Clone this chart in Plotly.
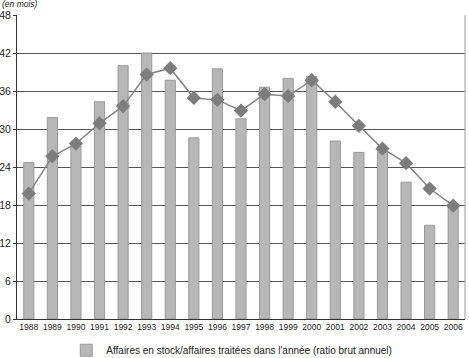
import plotly.graph_objects as go

years = [str(y) for y in range(1988, 2007)]
bar_values = [24.7, 31.8, 27.3, 34.3, 40.0, 42.0, 37.7, 28.6, 39.5, 31.6,
              36.6, 38.0, 38.3, 28.1, 26.3, 26.4, 21.6, 14.8, 17.9]
line_values = [19.8, 25.7, 27.7, 30.9, 33.6, 38.6, 39.6, 34.9, 34.6, 32.9,
               35.5, 35.2, 37.7, 34.3, 30.5, 26.9, 24.6, 20.6, 17.9]
y_ticks = [0, 6, 12, 18, 24, 30, 36, 42, 48]

FONT = "Liberation Sans, Arial, sans-serif"

fig = go.Figure()
fig.add_trace(go.Bar(
    x=years, y=bar_values,
    name="Affaires en stock/affaires traitées dans l'année (ratio brut annuel)",
    marker=dict(color="#b7b7b7", line=dict(color="#9a9a9a", width=1)),
    showlegend=True,
))
fig.add_trace(go.Scatter(
    x=years, y=line_values, mode="lines+markers",
    line=dict(color="#858585", width=1.5),
    marker=dict(symbol="diamond", size=11, color="#7d7d7d"),
    showlegend=False,
))

fig.update_layout(
    width=469, height=358,
    margin=dict(l=17, r=4, t=15, b=39, autoexpand=False),
    paper_bgcolor="white", plot_bgcolor="white",
    bargap=0.57,
    font=dict(family=FONT, color="#222"),
    xaxis=dict(
        type="category", range=[-0.5, len(years) - 0.5],
        showgrid=False, showline=True, linecolor="#333",
        linewidth=1, ticks="", tickfont=dict(size=8.5, color="#222"),
        tickangle=0, mirror=False, zeroline=False, automargin=False,
    ),
    yaxis=dict(
        range=[0, 48], tickvals=y_ticks, showgrid=True, gridcolor="#555",
        gridwidth=1, showline=True, linecolor="#333", linewidth=1,
        ticks="outside", ticklen=3, tickcolor="#333",
        tickfont=dict(size=10.5, color="#222"), zeroline=False,
        automargin=False,
    ),
    legend=dict(
        orientation="h", x=0.11, xanchor="left", y=-0.055, yanchor="top",
        font=dict(size=10, color="#222"), bgcolor="rgba(0,0,0,0)",
    ),
    annotations=[dict(
        text="(en mois)", xref="paper", yref="paper", x=-0.038, y=1.0,
        xanchor="left", yanchor="bottom", yshift=4, showarrow=False,
        font=dict(size=8.5, color="#222", family=FONT, style="italic"),
    )],
)
fig.update_layout(shapes=[
    dict(type="line", xref="paper", yref="paper", x0=1, x1=1, y0=0, y1=1,
         line=dict(color="#999", width=1)),
])

fig.write_html("out.html")
